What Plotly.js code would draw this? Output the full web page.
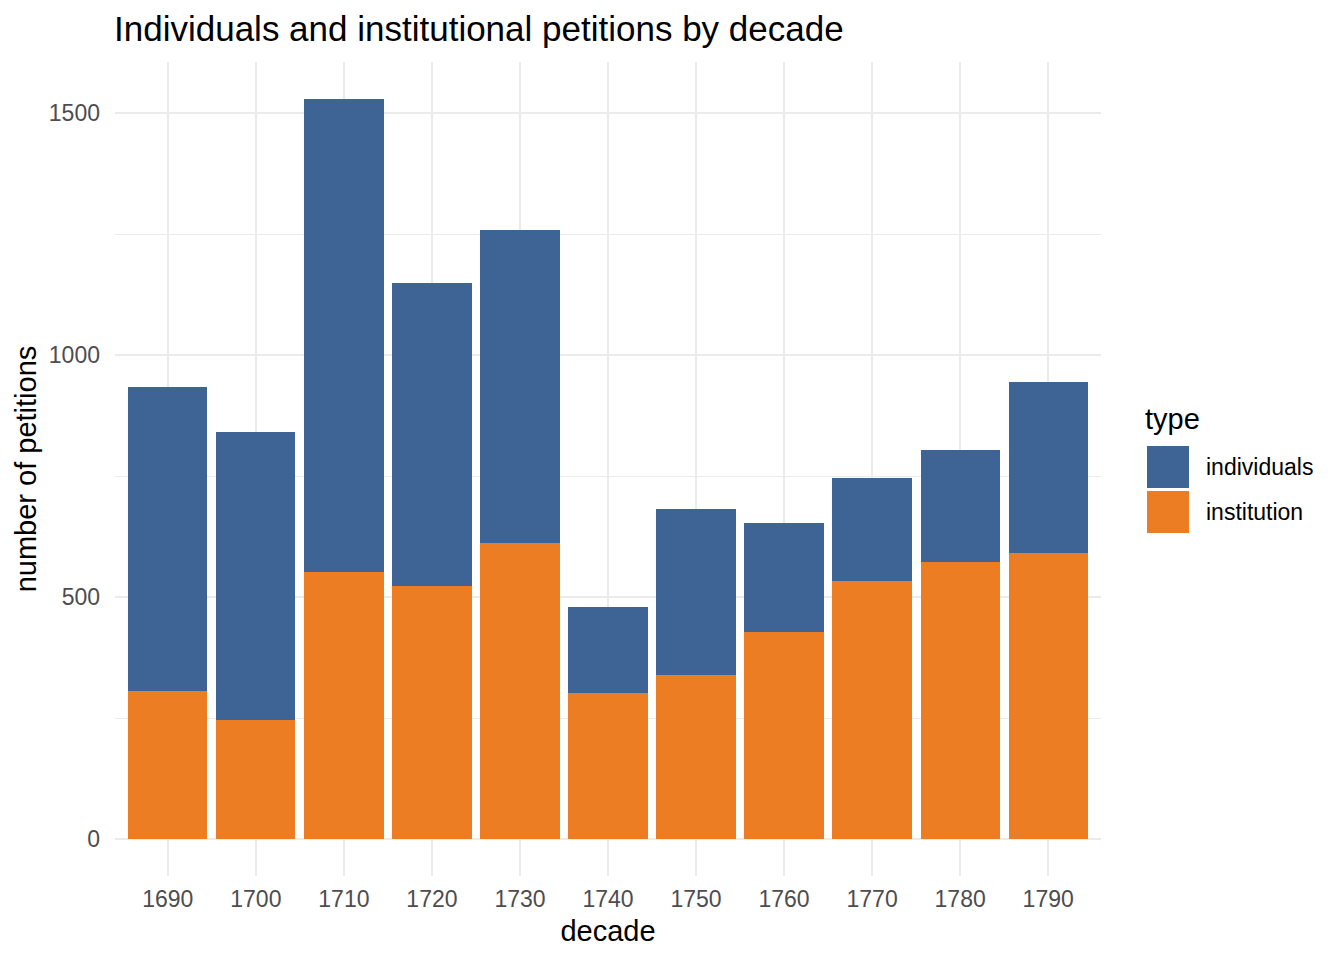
<!DOCTYPE html>
<html>
<head>
<meta charset="utf-8">
<script src="https://cdn.plot.ly/plotly-3.0.1.min.js"></script>
<style>
    html, body { margin: 0; padding: 0; background: #ffffff; }
    #chart { width: 1344px; height: 960px; }
</style>
</head>
<body>
<div id="chart"></div>
<script>
// petitions per decade
const decades = ["1690", "1700", "1710", "1720", "1730", "1740", "1750", "1760", "1770", "1780", "1790"];
const institution = [306, 246, 552, 523, 612, 302, 339, 428, 533, 572, 591];
const individuals = [628, 595, 977, 626, 646, 177, 343, 225, 213, 232, 353];

const legendTitle = "type";
const seriesNames = ["individuals", "institution"];
const seriesColors = { individuals: "#3E6496", institution: "#ED7D22" };

const FONT = "Liberation Sans, Arial, Helvetica, sans-serif";

// plot area in pixels, used to place the hand made legend
const plotBox = { l: 115, r: 243, t: 62, b: 84, w: 1344, h: 960 };

function toPaperX(px) {
    return (px - plotBox.l) / (plotBox.w - plotBox.l - plotBox.r);
}

function toPaperY(py) {
    const bottom = plotBox.h - plotBox.b;
    return (bottom - py) / (plotBox.h - plotBox.t - plotBox.b);
}

const traces = [
    {
        type: "bar",
        name: "institution",
        x: decades,
        y: institution,
        marker: { color: seriesColors.institution, line: { width: 0 } },
        hoverinfo: "x+y+name"
    },
    {
        type: "bar",
        name: "individuals",
        x: decades,
        y: individuals,
        marker: { color: seriesColors.individuals, line: { width: 0 } },
        hoverinfo: "x+y+name"
    }
];

const maxTotal = Math.max(...institution.map((v, i) => v + individuals[i]));
const pad = maxTotal * 0.05;

// legend keys: drawn as shapes since plotly's bar symbols are tiny
const keyTop = 446;
const keySize = 42;
const keyStep = 45;
const shapes = [];
const annotations = [];

seriesNames.forEach((name, i) => {
    const top = keyTop + i * keyStep;
    shapes.push({
        type: "rect",
        xref: "paper",
        yref: "paper",
        x0: toPaperX(1147),
        x1: toPaperX(1147 + keySize),
        y0: toPaperY(top + keySize),
        y1: toPaperY(top),
        fillcolor: seriesColors[name],
        line: { width: 0 }
    });
    annotations.push({
        xref: "paper",
        yref: "paper",
        x: toPaperX(1204),
        y: toPaperY(top + keySize / 2),
        xanchor: "left",
        yanchor: "middle",
        showarrow: false,
        text: name,
        font: { family: FONT, size: 23, color: "#000000" }
    });
});

annotations.push({
    xref: "paper",
    yref: "paper",
    x: toPaperX(1143),
    y: toPaperY(419),
    xanchor: "left",
    yanchor: "middle",
    showarrow: false,
    text: legendTitle,
    font: { family: FONT, size: 29, color: "#000000" }
});

const layout = {
    width: 1344,
    height: 960,
    paper_bgcolor: "#ffffff",
    plot_bgcolor: "#ffffff",
    font: { family: FONT, color: "#000000" },
    margin: { l: plotBox.l, r: plotBox.r, t: plotBox.t, b: plotBox.b, pad: 0 },
    barmode: "stack",
    bargap: 0.1,
    showlegend: false,

    title: {
        text: "Individuals and institutional petitions by decade",
        font: { family: FONT, size: 35, color: "#000000" },
        xref: "container",
        yref: "container",
        x: 114 / 1344,
        xanchor: "left",
        y: 1 - 29 / 960,
        yanchor: "middle"
    },

    xaxis: {
        type: "category",
        range: [-0.6, decades.length - 0.4],
        showgrid: true,
        gridcolor: "#EBEBEB",
        gridwidth: 2.2,
        zeroline: false,
        showline: false,
        ticks: "",
        ticklabelstandoff: 7,
        tickfont: { family: FONT, size: 23, color: "#4D4D4D" },
        title: {
            text: "decade",
            font: { family: FONT, size: 29, color: "#000000" },
            standoff: 9
        }
    },

    yaxis: {
        range: [-pad, maxTotal + pad],
        tickvals: [0, 500, 1000, 1500],
        ticktext: ["0", "500", "1000", "1500"],
        showgrid: true,
        gridcolor: "#EBEBEB",
        gridwidth: 2.2,
        minor: {
            tickvals: [250, 750, 1250],
            showgrid: true,
            gridcolor: "#EBEBEB",
            gridwidth: 1.1,
            ticks: ""
        },
        zeroline: false,
        showline: false,
        ticks: "",
        ticklabelstandoff: 14,
        tickfont: { family: FONT, size: 23, color: "#4D4D4D" },
        title: {
            text: "number of petitions",
            font: { family: FONT, size: 29, color: "#000000" },
            standoff: 3
        }
    },

    shapes,
    annotations
};

const config = {
    displayModeBar: false,
    responsive: false
};

Plotly.newPlot("chart", traces, layout, config);
</script>
</body>
</html>
